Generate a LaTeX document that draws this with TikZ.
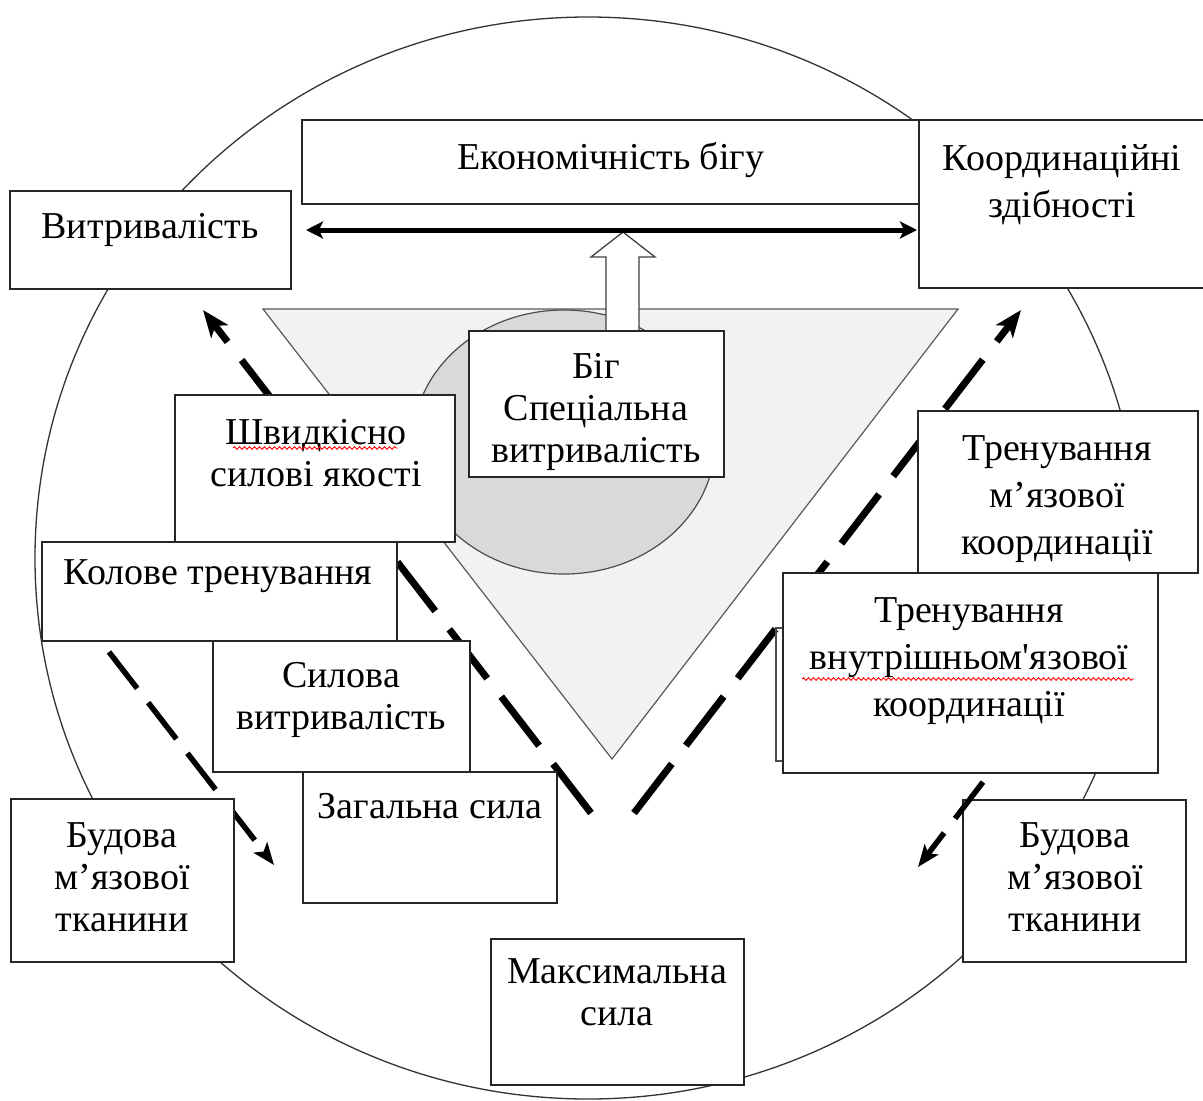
\documentclass[tikz,border=0pt]{standalone}
\usepackage{fontspec}
\newfontfamily\lserif{Liberation Serif}
\usetikzlibrary{arrows.meta,decorations.pathmorphing}

\begin{document}
\begin{tikzpicture}[x=1pt,y=-1pt,
  box/.style={draw=black!85, line width=1.6pt, fill=white, rectangle, inner sep=0pt},
  txt/.style={font=\lserif\fontsize{38}{42}\selectfont, align=center, inner sep=0pt, text=black},
  txtw/.style={font=\lserif\fontsize{38}{47}\selectfont, align=center, inner sep=0pt, text=black},
  outerline/.style={draw=black!80, line width=1.3pt},
  bigdash/.style={line width=7pt, dash pattern=on 62pt off 23pt, -{Stealth[length=27pt,width=21pt,inset=7pt]}},
  smalldash/.style={line width=5.5pt, dash pattern=on 46pt off 18pt, -{Stealth[length=22pt,width=17pt,inset=5pt]}},
  dblarrow/.style={line width=5pt, {Stealth[length=17pt,width=17pt,inset=4pt]}-{Stealth[length=17pt,width=17pt,inset=4pt]}},
  squiggle/.style={red, line width=0.9pt, decorate, decoration={snake, segment length=5pt, amplitude=1.3pt}}
]
\useasboundingbox (0,0) rectangle (1203,1101);
\fill[white] (0,0) rectangle (1203,1101);

% outer circle
\draw[outerline] (588,558) ellipse [x radius=553pt, y radius=541pt];

% triangle and inner ellipse
\draw[fill=black!5, draw=black!65, line width=1.2pt] (263,309) -- (958,309) -- (612,759) -- cycle;
\draw[fill=black!15, draw=black!70, line width=1.2pt] (564,442) ellipse [x radius=151pt, y radius=132pt];

% hollow arrow
\draw[fill=white, draw=black!75, line width=1.3pt, line join=miter]
  (606,333) -- (606,257) -- (591,257) -- (623,232) -- (655,257) -- (639,257) -- (639,333);

% dashed connectors behind boxes
\coordinate (lbot) at (591,813);
\coordinate (ltip) at (203,310);
\coordinate (rbot) at (634,813);
\coordinate (rtip) at (1021,310);
\coordinate (llstart) at (109,652);
\coordinate (lltip) at (274,865);
\coordinate (rlstart) at (983,782);
\coordinate (rltip) at (918,867);
\draw[bigdash] (lbot) -- (ltip);
\draw[bigdash] (rbot) -- (rtip);
\draw[smalldash] (llstart) -- (lltip);

% back rectangle of the inner coordination box
\draw[draw=black!70, line width=1.2pt] (786,628) -- (776,628) -- (776,761) -- (786,761);

% boxes
\node[box, minimum width=618pt, minimum height=84pt] (ekon) at (611,162) {};
\node[box, minimum width=287pt, minimum height=168pt] (koord) at (1062.5,204) {};
\node[box, minimum width=281pt, minimum height=98pt] (vytr) at (150.5,240) {};
\node[box, minimum width=255pt, minimum height=146pt] (big) at (596.5,404) {};
\node[box, minimum width=280pt, minimum height=147pt] (shvyd) at (315,468.5) {};
\node[box, minimum width=355pt, minimum height=99pt] (kolove) at (219.5,591.5) {};
\node[box, minimum width=257pt, minimum height=131pt] (sylova) at (341.5,706.5) {};
\node[box, minimum width=254pt, minimum height=131pt] (zahal) at (430,837.5) {};
\node[box, minimum width=223pt, minimum height=163pt] (budL) at (122.5,880.5) {};
\node[box, minimum width=253pt, minimum height=146pt] (maks) at (617.5,1012) {};
\node[box, minimum width=223pt, minimum height=162pt] (budR) at (1074.5,881) {};
\node[box, minimum width=280pt, minimum height=162pt] (trenM) at (1058,492) {};
\node[box, minimum width=375pt, minimum height=200pt] (trenV) at (970.5,673) {};

% texts
\node[txt] (ekonT) at (611,160) {Економічність бігу};
\node[txt] (vytrT) at (150,230) {Витривалість};
\node[txtw] (koordT) at (1062,185) {Координаційні\\здібності};
\node[txt] (bigT) at (596,412) {Біг\\Спеціальна\\витривалість};
\node[txt] (shvydT) at (316,453) {Швидкісно\\силові якості};
\node[txt] (koloveT) at (218,576) {Колове тренування};
\node[txt] (sylovaT) at (341,700) {Силова\\витривалість};
\node[txt] (zahalT) at (430,806) {Загальна сила};
\node[txt] (budLT) at (122,877) {Будова\\м’язової\\тканини};
\node[txt] (maksT) at (617,992) {Максимальна\\сила};
\node[txt] (budRT) at (1075,877) {Будова\\м’язової\\тканини};
\node[txtw] (trenMT) at (1057,499) {Тренування\\м’язової\\координації};
\node[txtw] (trenVT) at (969,661) {Тренування\\внутрішньом'язової\\координації};

% spell-check squiggles
\draw[squiggle] (233,448) -- (398,448);
\draw[squiggle] (802,679) -- (1134,679);

% connectors in front
\coordinate (dl) at (306,230);
\coordinate (dr) at (917,230);
\draw[dblarrow] (dl) -- (dr);
\draw[smalldash] (rlstart) -- (rltip);
\end{tikzpicture}
\end{document}
